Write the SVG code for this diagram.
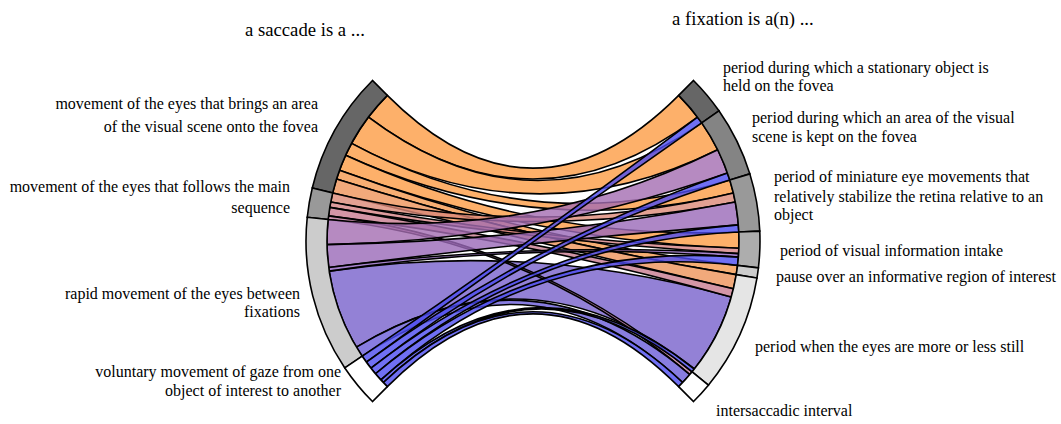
<svg xmlns="http://www.w3.org/2000/svg" width="1061" height="424" viewBox="0 0 1061 424">
<style>
text{font-family:"Liberation Serif","Times New Roman",serif;font-size:16px;fill:#000}
.title{font-size:18.7px}
.lab-l{text-anchor:end}
.ring{stroke:#000;stroke-width:1.6}
.rib{stroke:#000;stroke-width:1.6;fill-opacity:0.8;stroke-linejoin:round}
.o{fill:#fc9c45}
.b{fill:#4c4cf0}
</style>
<rect width="1061" height="424" fill="#fff"/>
<text class="title" x="245" y="36">a saccade is a ...</text>
<text class="title" x="672" y="25">a fixation is a(n) ...</text>
<g id="connectors">
<path class="rib" fill="#7862cc" d="M329.21 271.09 A206 206 0 0 0 356.42 347.10 Q533 241 694.39 369.00 A206 206 0 0 0 731.22 297.09 Q533 241 329.21 271.09 Z"/>
<path class="rib o" d="M387.34 95.34 A206 206 0 0 0 368.48 117.03 Q533 241 697.52 117.03 A206 206 0 0 0 678.66 95.34 Q533 241 387.34 95.34 Z"/>
<path class="rib o" d="M368.48 117.03 A206 206 0 0 0 351.62 143.34 Q533 241 717.68 149.73 A206 206 0 0 0 701.74 122.84 Q533 241 368.48 117.03 Z"/>
<path class="rib o" d="M351.62 143.34 A206 206 0 0 0 345.70 155.25 Q533 241 733.31 192.91 A206 206 0 0 0 729.79 180.08 Q533 241 351.62 143.34 Z"/>
<path class="rib o" d="M345.70 155.25 A206 206 0 0 0 339.55 170.21 Q533 241 738.87 248.19 A206 206 0 0 0 738.80 232.01 Q533 241 345.70 155.25 Z"/>
<path class="rib" fill="#f59a50" d="M339.55 170.21 A206 206 0 0 0 336.53 179.05 Q533 241 736.23 274.65 A206 206 0 0 0 737.55 265.39 Q533 241 339.55 170.21 Z"/>
<path class="rib" fill="#ee935a" d="M336.53 179.05 A206 206 0 0 0 332.69 192.91 Q533 241 733.39 288.74 A206 206 0 0 0 736.23 274.65 Q533 241 336.53 179.05 Z"/>
<path class="rib" fill="#dc8a78" d="M332.69 192.91 A206 206 0 0 0 330.72 202.05 Q533 241 735.28 202.05 A206 206 0 0 0 733.31 192.91 Q533 241 332.69 192.91 Z"/>
<path class="rib" fill="#d48285" d="M330.72 202.05 A206 206 0 0 0 329.77 207.35 Q533 241 738.62 253.58 A206 206 0 0 0 738.87 248.19 Q533 241 330.72 202.05 Z"/>
<path class="rib" fill="#c87c90" d="M329.77 207.35 A206 206 0 0 0 328.53 215.89 Q533 241 731.22 297.09 A206 206 0 0 0 733.39 288.74 Q533 241 329.77 207.35 Z"/>
<path class="rib" fill="#bc7898" d="M328.53 215.89 A206 206 0 0 0 328.13 219.47 Q533 241 689.84 374.56 A206 206 0 0 0 692.14 371.81 Q533 241 328.53 215.89 Z"/>
<path class="rib" fill="#a46db2" d="M328.13 219.47 A206 206 0 0 0 327.03 244.59 Q533 241 727.42 172.91 A206 206 0 0 0 717.68 149.73 Q533 241 328.13 219.47 Z"/>
<path class="rib" fill="#9a69b8" d="M327.03 244.59 A206 206 0 0 0 328.72 267.53 Q533 241 738.37 224.84 A206 206 0 0 0 735.28 202.05 Q533 241 327.03 244.59 Z"/>
<path class="rib" fill="#9064be" d="M328.72 267.53 A206 206 0 0 0 329.21 271.09 Q533 241 738.37 257.16 A206 206 0 0 0 738.62 253.58 Q533 241 328.72 267.53 Z"/>
<path class="rib" fill="#6a5cd8" d="M356.42 347.10 A206 206 0 0 0 362.22 356.19 Q533 241 682.67 382.54 A206 206 0 0 0 689.84 374.56 Q533 241 356.42 347.10 Z"/>
<path class="rib b" d="M362.22 356.19 A206 206 0 0 0 366.34 362.08 Q533 241 701.74 122.84 A206 206 0 0 0 697.52 117.03 Q533 241 362.22 356.19 Z"/>
<path class="rib b" d="M366.34 362.08 A206 206 0 0 0 370.94 368.16 Q533 241 729.79 180.08 A206 206 0 0 0 727.42 172.91 Q533 241 366.34 362.08 Z"/>
<path class="rib b" d="M370.94 368.16 A206 206 0 0 0 375.47 373.75 Q533 241 738.80 232.01 A206 206 0 0 0 738.37 224.84 Q533 241 370.94 368.16 Z"/>
<path class="rib b" d="M375.47 373.75 A206 206 0 0 0 380.88 379.91 Q533 241 737.55 265.39 A206 206 0 0 0 738.37 257.16 Q533 241 375.47 373.75 Z"/>
<path class="rib b" d="M380.88 379.91 A206 206 0 0 0 383.33 382.54 Q533 241 692.14 371.81 A206 206 0 0 0 694.39 369.00 Q533 241 380.88 379.91 Z"/>
<path class="rib b" d="M383.33 382.54 A206 206 0 0 0 387.34 386.66 Q533 241 678.66 386.66 A206 206 0 0 0 682.67 382.54 Q533 241 383.33 382.54 Z"/>
</g>
<g id="saccade-1">
<path class="ring" fill="#666666" d="M372.48 80.48 A227 227 0 0 0 312.27 188.01 L332.69 192.91 A206 206 0 0 1 387.34 95.34 Z"/>
<text class="lab-l" x="318" y="109">movement of the eyes that brings an area</text>
<text class="lab-l" x="318" y="132">of the visual scene onto the fovea</text>
</g>
<g id="saccade-2">
<path class="ring" fill="#999999" d="M312.27 188.01 A227 227 0 0 0 307.24 217.27 L328.13 219.47 A206 206 0 0 1 332.69 192.91 Z"/>
<text class="lab-l" x="290" y="192">movement of the eyes that follows the main</text>
<text class="lab-l" x="290" y="213">sequence</text>
</g>
<g id="saccade-3">
<path class="ring" fill="#cccccc" d="M307.24 217.27 A227 227 0 0 0 344.81 367.94 L362.22 356.19 A206 206 0 0 1 328.13 219.47 Z"/>
<text class="lab-l" x="300" y="299">rapid movement of the eyes between</text>
<text class="lab-l" x="300" y="317">fixations</text>
</g>
<g id="saccade-4">
<path class="ring" fill="#ffffff" d="M344.81 367.94 A227 227 0 0 0 372.48 401.52 L387.34 386.66 A206 206 0 0 1 362.22 356.19 Z"/>
<text class="lab-l" x="341" y="377">voluntary movement of gaze from one</text>
<text class="lab-l" x="341" y="396">object of interest to another</text>
</g>
<g id="fixation-1">
<path class="ring" fill="#666666" d="M693.52 80.48 A227 227 0 0 1 718.95 110.80 L701.74 122.84 A206 206 0 0 0 678.66 95.34 Z"/>
<text x="723" y="73">period during which a stationary object is</text>
<text x="723" y="91">held on the fovea</text>
</g>
<g id="fixation-2">
<path class="ring" fill="#848484" d="M718.95 110.80 A227 227 0 0 1 749.85 173.87 L729.79 180.08 A206 206 0 0 0 701.74 122.84 Z"/>
<text x="752" y="123">period during which an area of the visual</text>
<text x="752" y="142">scene is kept on the fovea</text>
</g>
<g id="fixation-3">
<path class="ring" fill="#999999" d="M749.85 173.87 A227 227 0 0 1 759.78 231.10 L738.80 232.01 A206 206 0 0 0 729.79 180.08 Z"/>
<text x="774" y="182">period of miniature eye movements that</text>
<text x="774" y="202">relatively stabilize the retina relative to an</text>
<text x="774" y="220">object</text>
</g>
<g id="fixation-4">
<path class="ring" fill="#adadad" d="M759.78 231.10 A227 227 0 0 1 758.40 267.88 L737.55 265.39 A206 206 0 0 0 738.80 232.01 Z"/>
<text x="780" y="256">period of visual information intake</text>
</g>
<g id="fixation-5">
<path class="ring" fill="#cccccc" d="M758.40 267.88 A227 227 0 0 1 756.95 278.08 L736.23 274.65 A206 206 0 0 0 737.55 265.39 Z"/>
<text x="776" y="282">pause over an informative region of interest</text>
</g>
<g id="fixation-6">
<path class="ring" fill="#e5e5e5" d="M756.95 278.08 A227 227 0 0 1 708.36 385.15 L692.14 371.81 A206 206 0 0 0 736.23 274.65 Z"/>
<text x="755" y="352">period when the eyes are more or less still</text>
</g>
<g id="fixation-7">
<path class="ring" fill="#ffffff" d="M708.36 385.15 A227 227 0 0 1 693.52 401.52 L678.66 386.66 A206 206 0 0 0 692.14 371.81 Z"/>
<text x="716" y="416">intersaccadic interval</text>
</g>
</svg>
